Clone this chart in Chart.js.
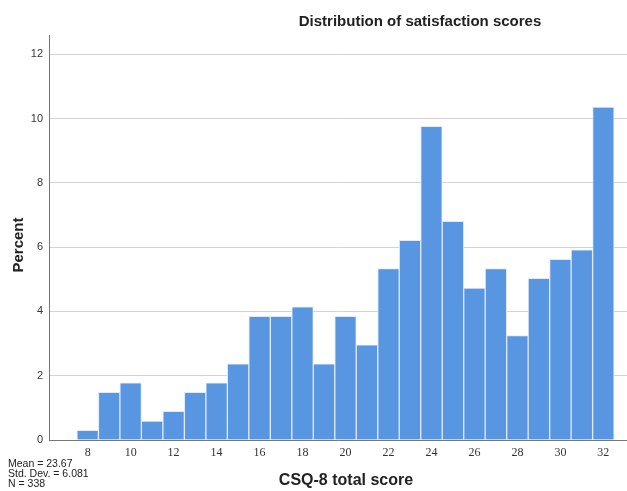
<!DOCTYPE html>
<html>
<head>
<meta charset="utf-8">
<script src="https://cdn.jsdelivr.net/npm/chart.js@4.4.1/dist/chart.umd.min.js"></script>
<style>
  html, body { margin: 0; padding: 0; background: #fff; }
  #wrap { width: 627px; height: 491px; }
</style>
</head>
<body>
<div id="wrap"><canvas id="myChart" width="627" height="491"></canvas></div>
<script>
// CSQ-8 total score (bin centres) and percent of respondents
const scores = [8, 9, 10, 11, 12, 13, 14, 15, 16, 17, 18, 19, 20, 21, 22, 23, 24, 25, 26, 27, 28, 29, 30, 31, 32];
const percents = [0.30, 1.48, 1.78, 0.59, 0.89, 1.48, 1.78, 2.37, 3.85, 3.85, 4.14, 2.37, 3.85, 2.96, 5.33, 6.21, 9.76, 6.80, 4.73, 5.33, 3.25, 5.03, 5.62, 5.92, 10.36];

const xTicks = [8, 10, 12, 14, 16, 18, 20, 22, 24, 26, 28, 30, 32];
const yTicks = [0, 2, 4, 6, 8, 10, 12];

const chartTitle = "Distribution of satisfaction scores";
const xTitle = "CSQ-8 total score";
const yTitle = "Percent";
const statsLines = ["Mean = 23.67", "Std. Dev. = 6.081", "N = 338"];

// draws title, axis titles and the stats box
const textPlugin = {
  id: "texts",
  afterDraw: (chart) => {
    const ctx = chart.ctx;
    ctx.save();
    ctx.fillStyle = "#222";
    ctx.textAlign = "center";
    ctx.textBaseline = "middle";
    ctx.font = "bold 15px 'Liberation Sans', Arial, sans-serif";
    ctx.fillText(chartTitle, 420, 22);
    ctx.font = "bold 16px 'Liberation Sans', Arial, sans-serif";
    ctx.fillText(xTitle, 346, 481);
    ctx.save();
    ctx.translate(19, 245);
    ctx.rotate(-Math.PI / 2);
    ctx.font = "bold 15px 'Liberation Sans', Arial, sans-serif";
    ctx.fillText(yTitle, 0, 0);
    ctx.restore();
    ctx.textAlign = "left";
    ctx.font = "10.5px 'Liberation Sans', Arial, sans-serif";
    statsLines.forEach((line, i) => {
      ctx.fillText(line, 8, 464 + i * 10);
    });
    ctx.restore();
  },
};

const informations = {
  datasets: [
    {
      label: "Percent",
      data: scores.map((s, i) => ({ x: s, y: percents[i] })),
      backgroundColor: "#5896e2",
      borderColor: "#dfe9f8",
      borderWidth: 1,
      borderSkipped: "bottom",
      barPercentage: 1,
      categoryPercentage: 1,
    },
  ],
};

const config = {
  type: "bar",
  data: informations,
  plugins: [textPlugin],
  options: {
    responsive: false,
    animation: false,
    layout: { padding: { top: 35, right: 0, bottom: 0, left: 0 } },
    plugins: {
      legend: { display: false },
      tooltip: { enabled: false },
      title: { display: false },
    },
    scales: {
      x: {
        type: "linear",
        offset: false,
        min: 6.2,
        max: 33.1,
        afterBuildTicks: (scale) => {
          scale.ticks = xTicks.map((v) => ({ value: v }));
        },
        afterFit: (scale) => {
          scale.height = 51;
        },
        grid: { display: false, drawTicks: false },
        border: { display: true, color: "#777", width: 1 },
        ticks: {
          padding: 6,
          color: "#333",
          font: { family: "'Liberation Serif', 'Times New Roman', serif", size: 12 },
        },
      },
      y: {
        min: 0,
        max: 12.6,
        afterBuildTicks: (scale) => {
          scale.ticks = yTicks.map((v) => ({ value: v }));
        },
        afterFit: (scale) => {
          scale.width = 49;
        },
        grid: { color: "#d4d4d4", lineWidth: 1, drawTicks: false },
        border: { display: true, color: "#777", width: 1 },
        ticks: {
          padding: 6,
          color: "#333",
          font: { family: "'Liberation Sans', Arial, sans-serif", size: 11 },
        },
      },
    },
  },
};

const myChart = new Chart(document.getElementById("myChart"), config);
</script>
</body>
</html>
